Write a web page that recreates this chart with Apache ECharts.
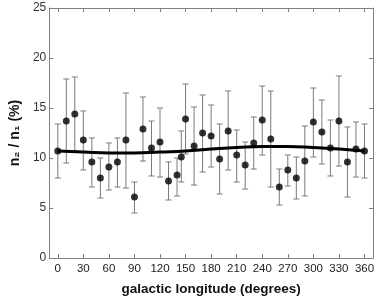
<!DOCTYPE html>
<html>
<head>
<meta charset="utf-8">
<script src="https://cdn.jsdelivr.net/npm/echarts@6/dist/echarts.min.js"></script>
<style>html,body{margin:0;padding:0;background:#fff}#c{width:382px;height:301px}</style>
</head>
<body>
<div id="c"></div>
<script>
const lon = [0,10,20,30,40,50,60,70,80,90,100,110,120,130,140,145,150,160,170,180,190,200,210,220,230,240,250,260,270,280,290,300,310,320,330,340,350,360];
const ratio = [10.7,13.7,14.4,11.8,9.6,8.0,9.1,9.6,11.8,6.1,12.9,11.0,11.6,7.7,8.3,10.1,13.9,11.2,12.5,12.2,9.9,12.7,10.3,9.3,11.5,13.8,11.9,7.1,8.8,8.0,9.7,13.6,12.6,11.0,13.7,9.6,10.9,10.7];
const upper = [13.4,17.9,18.1,14.7,12.0,10.0,11.5,12.0,16.5,7.6,16.1,13.7,15.0,9.6,10.0,12.7,17.4,15.1,16.3,15.3,13.4,16.7,12.8,11.6,14.1,17.2,16.7,8.9,10.3,10.1,13.2,17.0,15.8,13.8,18.2,13.1,13.6,13.4];
const lower = [8.0,9.5,10.7,8.8,7.1,6.0,6.8,7.1,7.0,4.5,9.7,8.2,8.1,5.8,6.2,7.6,10.4,7.3,8.6,9.1,6.4,8.8,7.6,6.9,8.9,10.3,7.1,5.3,7.2,5.9,6.2,10.1,9.4,8.2,9.2,6.1,8.1,8.0];
const fitLon = [0,30,60,90,120,150,180,210,240,270,300,330,360];
const fitVal = [10.7,10.6,10.5,10.5,10.6,10.7,10.9,11.05,11.15,11.15,11.05,10.9,10.7];
const xTicks = [0,30,60,90,120,150,180,210,240,270,300,330,360];

const font = 'Liberation Sans, Arial, sans-serif';
const frame = '#808080';
const chart = echarts.init(document.getElementById('c'), null, {renderer:'canvas'});

const errData = lon.map((x,i)=>[x, lower[i], upper[i]]);
const ptData = lon.map((x,i)=>[x, ratio[i]]);
const fitData = fitLon.map((x,i)=>[x, fitVal[i]]);

const xBase = {
  type:'value', min:-10, max:370,
  axisLine:{show:true, onZero:false, lineStyle:{color:frame, width:1}},
  splitLine:{show:false}
};
const yBase = {
  type:'value', min:0, max:25, interval:5,
  axisLine:{show:true, onZero:false, lineStyle:{color:frame, width:1}},
  splitLine:{show:false}
};

chart.setOption({
  animation:false,
  grid:{left:42, right:9, top:8, bottom:33},
  xAxis:[
    Object.assign({}, xBase, {
      position:'bottom',
      name:'galactic longitude (degrees)', nameLocation:'middle', nameGap:24,
      nameTextStyle:{fontFamily:font, fontSize:13.5, fontWeight:'bold', color:'#111'},
      axisTick:{show:true, inside:true, length:4, lineStyle:{color:frame}, customValues:xTicks},
      axisLabel:{show:true, fontFamily:font, fontSize:11.5, color:'#222', margin:5, customValues:xTicks}
    }),
    Object.assign({}, xBase, {
      position:'top',
      axisTick:{show:true, inside:true, length:4, lineStyle:{color:frame}, customValues:xTicks},
      axisLabel:{show:false}
    })
  ],
  yAxis:[
    Object.assign({}, yBase, {
      position:'left',
      name:'n\u2082 / n\u2081 (%)', nameLocation:'middle', nameGap:24, nameRotate:90,
      nameTextStyle:{fontFamily:font, fontSize:14, fontWeight:'bold', color:'#111'},
      axisTick:{show:true, inside:true, length:4, lineStyle:{color:frame}},
      axisLabel:{show:true, fontFamily:font, fontSize:12, color:'#333', margin:3}
    }),
    Object.assign({}, yBase, {
      position:'right',
      axisTick:{show:true, inside:true, length:4, lineStyle:{color:frame}},
      axisLabel:{show:false}
    })
  ],
  series:[
    {
      type:'custom', xAxisIndex:0, yAxisIndex:0, data:errData, z:2,
      renderItem:(params, api)=>{
        const x = api.value(0), lo = api.value(1), hi = api.value(2);
        const pH = api.coord([x, hi]), pL = api.coord([x, lo]);
        const w = 3;
        const st = {stroke:'#7a7a7a', lineWidth:1};
        return {type:'group', children:[
          {type:'line', shape:{x1:pH[0], y1:pH[1], x2:pL[0], y2:pL[1]}, style:st},
          {type:'line', shape:{x1:pH[0]-w, y1:pH[1], x2:pH[0]+w, y2:pH[1]}, style:st},
          {type:'line', shape:{x1:pL[0]-w, y1:pL[1], x2:pL[0]+w, y2:pL[1]}, style:st}
        ]};
      }
    },
    {
      type:'line', data:fitData, smooth:true, showSymbol:false, z:3,
      lineStyle:{color:'#000', width:3}
    },
    {
      type:'scatter', data:ptData, symbol:'circle', symbolSize:7, z:4,
      itemStyle:{color:'#000'}
    }
  ]
});
</script>
</body>
</html>
